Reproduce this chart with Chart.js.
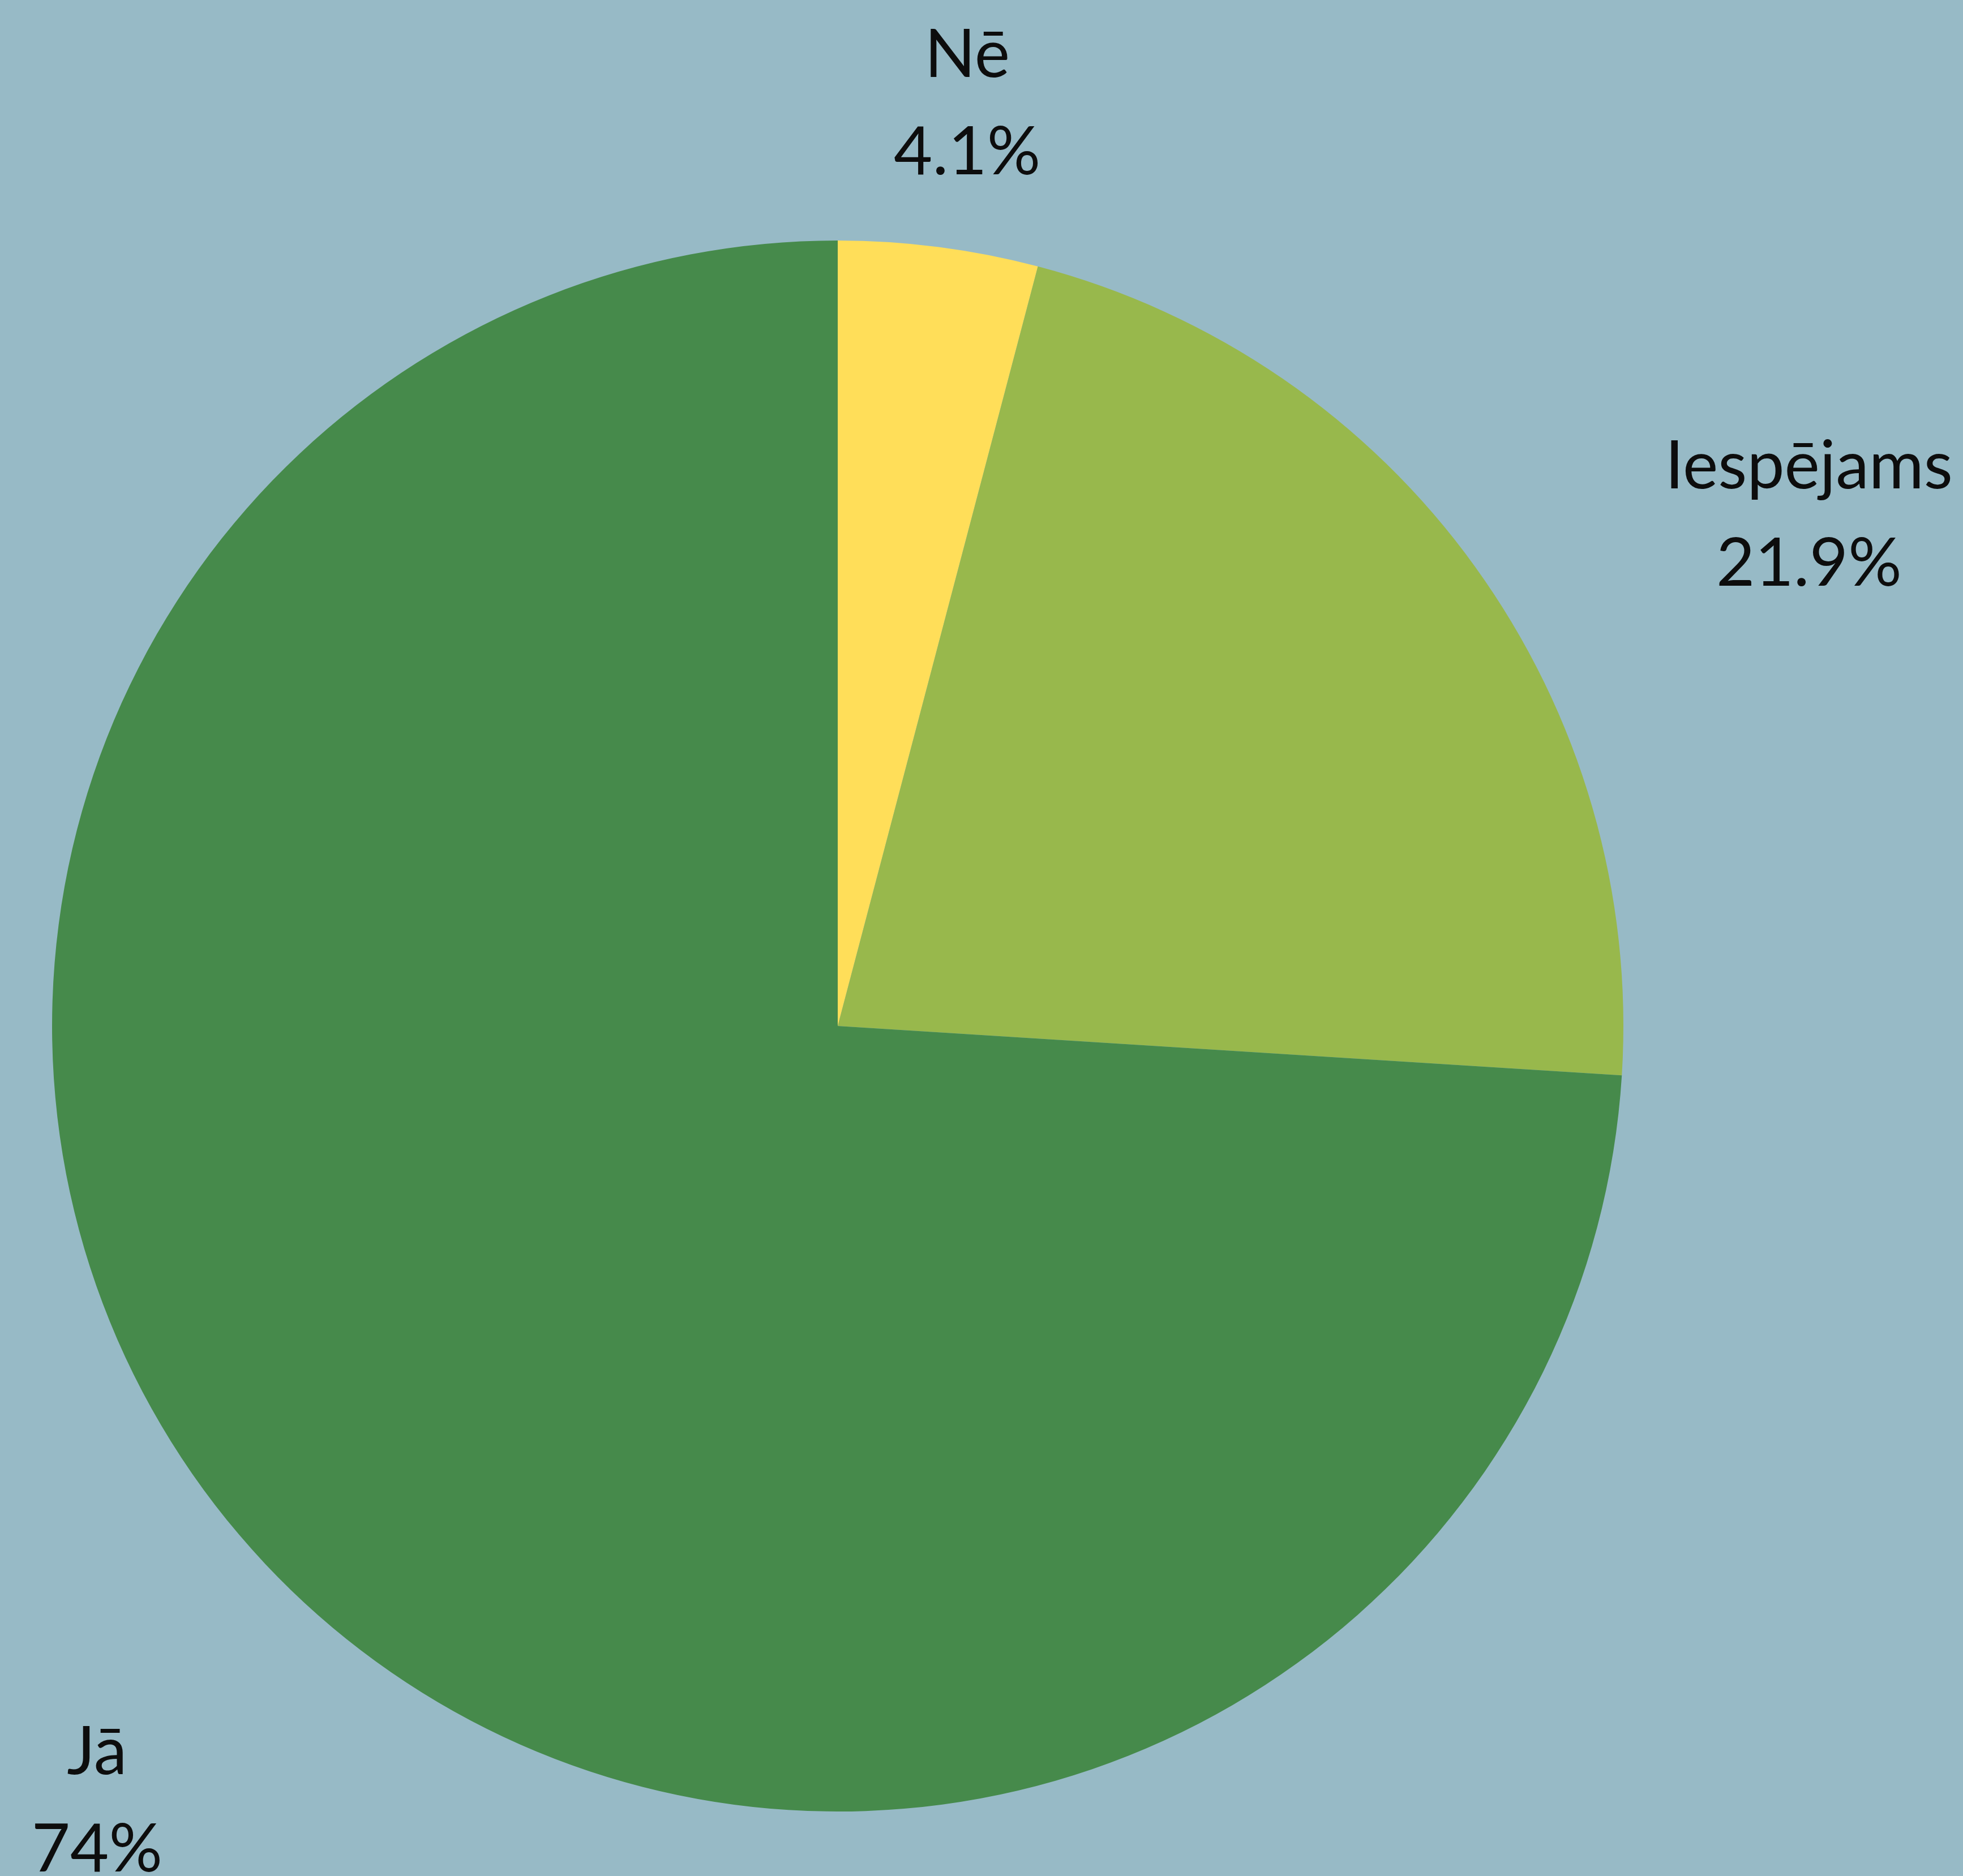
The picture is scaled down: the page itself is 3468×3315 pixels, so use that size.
<!DOCTYPE html>
<html>
<head>
<meta charset="utf-8">
<script src="https://cdn.jsdelivr.net/npm/chart.js@4"></script>
<style>
    body { margin: 0; background: #97BAC6; }
    .container { width: 3468px; height: 3315px; position: relative; background: #97BAC6; }
</style>
</head>
<body>
<div class="container"><canvas id="graph0"></canvas></div>
<script>
// Pie data
let categories = ["Nē", "Iespējams", "Jā"];
let shares = [4.1, 21.9, 74];
let colours = ["#FFDE59", "#98B84C", "#468A4B"];

// Where each label sits: distance as a share of the radius, and a turn in degrees off the slice middle
let labelRadius = [1.158, 1.384, 1.385];
let labelTurn = [0.8, 9.1, -3.9];

// Draws the two-line labels outside the pie
let outsideLabels = {
    id: "outsideLabels",
    afterDatasetsDraw(chart) {
        let ctx = chart.ctx;
        let arcs = chart.getDatasetMeta(0).data;
        ctx.save();
        ctx.font = "118px Lato";
        ctx.fillStyle = "#0d0d0d";
        ctx.textAlign = "center";
        ctx.textBaseline = "alphabetic";
        for (let i = 0; i < arcs.length; i++) {
            let arc = arcs[i];
            let a = (arc.startAngle + arc.endAngle) / 2 + labelTurn[i] * Math.PI / 180;
            let r = arc.outerRadius * labelRadius[i];
            let x = arc.x + Math.cos(a) * r;
            let y = arc.y + Math.sin(a) * r;
            ctx.fillText(categories[i], x, y - 86);
            ctx.fillText(shares[i] + "%", x, y + 86);
        }
        ctx.restore();
    }
};

let ctx = document.getElementById("graph0");
let chart = new Chart(ctx, {
    type: "pie",
    data: {
        labels: categories,
        datasets: [{
            data: shares,
            backgroundColor: colours,
            borderWidth: 0
        }]
    },
    options: {
        responsive: true,
        maintainAspectRatio: false,
        animation: false,
        layout: { padding: { left: 92, right: 600, top: 425, bottom: 114 } },
        plugins: {
            legend: { display: false },
            tooltip: { enabled: false }
        }
    },
    plugins: [outsideLabels]
});
</script>
</body>
</html>
